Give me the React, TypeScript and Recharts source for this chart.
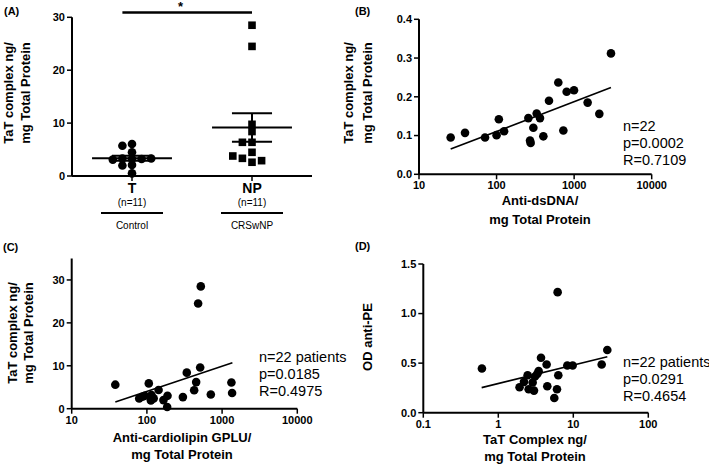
import React from 'react';
import { ScatterChart, Scatter, XAxis, YAxis, ReferenceLine } from 'recharts';

// Panel A: dot plot, TaT complex (ng/mg total protein)
const groups = ['T', 'NP'];
const groupCounts = ['(n=11)', '(n=11)'];
const groupNames = ['Control', 'CRSwNP'];
const controlTaT = [0.5, 3.2, 3.3, 3.2, 3.1, 3.3, 4.5, 6.05, 5.73, 2.1, 2.0];
const npTaT = [28.5, 24.5, 8.4, 9.77, 6.37, 6.37, 4.48, 2.6, 3.34, 2.9, 3.78];

// Panel B: anti-dsDNA vs TaT
const dsDNA = [25.6, 39.2, 71, 100, 107, 125, 257, 270, 275, 298, 329, 363, 401, 474, 625, 726, 801, 996, 1493, 2112, 2985];
const tatB = [0.095, 0.107, 0.095, 0.101, 0.142, 0.111, 0.145, 0.087, 0.081, 0.12, 0.157, 0.145, 0.098, 0.19, 0.237, 0.113, 0.213, 0.217, 0.185, 0.156, 0.312];
const fitBx = [25.6, 2985];
const fitBy = [0.065, 0.224];

// Panel C: anti-cardiolipin vs TaT
const cardiolipin = [38, 79, 87, 94, 106, 113, 115, 123, 143, 166, 188, 186, 301, 339, 425, 452, 480, 511, 521, 708, 1330, 1358];
const tatC = [5.6, 2.4, 2.8, 3.0, 5.9, 1.9, 3.2, 2.4, 4.35, 2.0, 3.0, 0.4, 2.7, 8.4, 4.3, 6.2, 24.5, 9.6, 28.5, 3.3, 6.1, 3.65];
const fitCx = [38, 1371];
const fitCy = [1.55, 10.7];

// Panel D: TaT vs OD anti-PE
const tatD = [0.605, 1.92, 2.2, 2.46, 2.54, 2.87, 2.99, 3.08, 3.31, 3.45, 3.71, 4.41, 4.5, 5.58, 6.06, 6.18, 6.31, 8.32, 9.8, 23.9, 28.4];
const antiPE = [0.446, 0.257, 0.311, 0.378, 0.236, 0.304, 0.223, 0.365, 0.392, 0.419, 0.554, 0.486, 0.267, 0.149, 0.236, 1.216, 0.378, 0.476, 0.476, 0.486, 0.632];
const fitDx = [0.6, 28.4];
const fitDy = [0.253, 0.564];

const statsB = ['n=22', 'p=0.0002', 'R=0.7109'];
const statsC = ['n=22 patients', 'p=0.0185', 'R=0.4975'];
const statsD = ['n=22 patients', 'p=0.0291', 'R=0.4654'];

const FONT = "'Liberation Sans', Arial, Helvetica, sans-serif";

const zip = (xs: number[], ys: number[]) => xs.map((x, i) => ({ x, y: ys[i] }));

// simple beeswarm: put each value in the first free column slot
function swarm(values: number[], center: number, slotWidth: number, minGap: number) {
  const slots = [0, -1, 1, -2, 2, -3, 3];
  const placed: { x: number; y: number; s: number }[] = [];
  values.forEach((v) => {
    const s = slots.find((k) => placed.every((p) => p.s !== k || Math.abs(p.y - v) >= minGap)) ?? 0;
    placed.push({ x: center + s * slotWidth, y: v, s });
  });
  return placed;
}

function meanSem(values: number[]) {
  const n = values.length;
  const mean = values.reduce((a, b) => a + b, 0) / n;
  const sd = Math.sqrt(values.reduce((a, b) => a + (b - mean) ** 2, 0) / (n - 1));
  return { mean, sem: sd / Math.sqrt(n) };
}

const tickStyle = { fill: '#000', fontSize: 11, fontWeight: 'bold', fontFamily: FONT };
const axisLine = { stroke: '#000', strokeWidth: 2 };
const tickLine = { stroke: '#000', strokeWidth: 1.5 };

const Dot = (props: any) => <circle cx={props.cx} cy={props.cy} r={4.3} fill="#000" />;
const Square = (props: any) => <rect x={props.cx - 3.8} y={props.cy - 3.8} width={7.6} height={7.6} fill="#000" />;
const NoDot = () => <g />;

function GroupTick(props: any) {
  const { x, y, payload } = props;
  const i = Math.round(payload.value) - 1;
  return (
    <g transform={`translate(${x},${y})`} fontFamily={FONT} fill="#000">
      <text x={0} y={10} textAnchor="middle" fontSize={14} fontWeight="bold">{groups[i]}</text>
      <text x={0} y={23} textAnchor="middle" fontSize={10}>{groupCounts[i]}</text>
      <line x1={-31} x2={31} y1={30} y2={30} stroke="#000" strokeWidth={2} />
      <text x={0} y={46} textAnchor="middle" fontSize={10}>{groupNames[i]}</text>
    </g>
  );
}

function DotPlotPanel() {
  const ctrl = swarm(controlTaT, 1, 0.08, 1.1);
  const np = swarm(npTaT, 2, 0.08, 1.1);
  const bars = [
    { c: 1, ...meanSem(controlTaT) },
    { c: 2, ...meanSem(npTaT) },
  ];
  return (
    <div style={{ position: 'absolute', left: 0, top: 0 }}>
      <ScatterChart width={355} height={230} margin={{ top: 17.3, right: 43, bottom: 4, left: 32 }}>
        <XAxis type="number" dataKey="x" domain={[0.5, 2.5]} ticks={[1, 2]} tick={<GroupTick />}
          axisLine={axisLine} tickLine={tickLine} tickSize={5} height={50} interval={0} />
        <YAxis type="number" dataKey="y" domain={[0, 30]} ticks={[0, 10, 20, 30]} tick={tickStyle}
          axisLine={axisLine} tickLine={tickLine} tickSize={5} width={40} />
        <Scatter data={ctrl} shape={Dot} isAnimationActive={false} />
        <Scatter data={np} shape={Square} isAnimationActive={false} />
        {bars.map((b) => [
          <ReferenceLine key={`m${b.c}`} segment={[{ x: b.c - 0.333, y: b.mean }, { x: b.c + 0.333, y: b.mean }]} stroke="#000" strokeWidth={2} ifOverflow="visible" />,
          <ReferenceLine key={`v${b.c}`} segment={[{ x: b.c, y: b.mean - b.sem }, { x: b.c, y: b.mean + b.sem }]} stroke="#000" strokeWidth={2} ifOverflow="visible" />,
          <ReferenceLine key={`u${b.c}`} segment={[{ x: b.c - 0.167, y: b.mean + b.sem }, { x: b.c + 0.167, y: b.mean + b.sem }]} stroke="#000" strokeWidth={2} ifOverflow="visible" />,
          <ReferenceLine key={`l${b.c}`} segment={[{ x: b.c - 0.167, y: b.mean - b.sem }, { x: b.c + 0.167, y: b.mean - b.sem }]} stroke="#000" strokeWidth={2} ifOverflow="visible" />,
        ])}
        <ReferenceLine segment={[{ x: 0.92, y: 30.9 }, { x: 2.0, y: 30.9 }]} stroke="#000" strokeWidth={2.5} ifOverflow="visible" />
      </ScatterChart>
    </div>
  );
}

interface LogPanelProps {
  left: number; top: number; width: number; height: number;
  margin: { top: number; right: number; bottom: number; left: number };
  xDomain: number[]; xTicks: number[];
  yDomain: number[]; yTicks: number[]; yDigits: number;
  points: { x: number; y: number }[];
  fit: { x: number; y: number }[];
}

function LogPanel(p: LogPanelProps) {
  return (
    <div style={{ position: 'absolute', left: p.left, top: p.top }}>
      <ScatterChart width={p.width} height={p.height} margin={p.margin}>
        <XAxis type="number" dataKey="x" scale="log" domain={p.xDomain} ticks={p.xTicks} tick={tickStyle}
          axisLine={axisLine} tickLine={tickLine} tickSize={5} height={25} interval={0}
          tickFormatter={(v: number) => String(v)} allowDataOverflow />
        <YAxis type="number" dataKey="y" domain={p.yDomain} ticks={p.yTicks} tick={tickStyle}
          axisLine={axisLine} tickLine={tickLine} tickSize={5} width={40} interval={0}
          tickFormatter={(v: number) => v.toFixed(p.yDigits)} />
        <Scatter data={p.points} shape={Dot} isAnimationActive={false} />
        <Scatter data={p.fit} shape={NoDot} line={{ stroke: '#000', strokeWidth: 1.6 }} isAnimationActive={false} />
      </ScatterChart>
    </div>
  );
}

const txt = (left: number, top: number, style: React.CSSProperties, content: React.ReactNode) => (
  <div style={{ position: 'absolute', left, top, fontFamily: FONT, color: '#000', whiteSpace: 'nowrap', ...style }}>{content}</div>
);

function Centered({ x, y, lh, size = 13, lines }: { x: number; y: number; lh: number; size?: number; lines: string[] }) {
  return (
    <div style={{ position: 'absolute', left: x, top: y, transform: 'translate(-50%, 0)', fontFamily: FONT, fontWeight: 'bold',
      fontSize: size, lineHeight: `${lh}px`, textAlign: 'center', whiteSpace: 'nowrap', color: '#000' }}>
      {lines.map((l) => <div key={l}>{l}</div>)}
    </div>
  );
}

function Rotated({ x, y, lh, size = 13, lines }: { x: number; y: number; lh: number; size?: number; lines: string[] }) {
  return (
    <div style={{ position: 'absolute', left: x, top: y, transform: 'translate(-50%, -50%) rotate(-90deg)', fontFamily: FONT,
      fontWeight: 'bold', fontSize: size, lineHeight: `${lh}px`, textAlign: 'center', whiteSpace: 'nowrap', color: '#000' }}>
      {lines.map((l) => <div key={l}>{l}</div>)}
    </div>
  );
}

function Stats({ x, y, lines }: { x: number; y: number; lines: string[] }) {
  return (
    <div style={{ position: 'absolute', left: x, top: y, fontFamily: FONT, fontSize: 14.5, lineHeight: '17px', color: '#000', whiteSpace: 'nowrap' }}>
      {lines.map((l) => <div key={l}>{l}</div>)}
    </div>
  );
}

export default function App() {
  const panelLabel = { fontSize: 11, fontWeight: 'bold' as const };
  return (
    <div style={{ position: 'absolute', left: 0, top: 0, width: 709, height: 464, background: '#fff', overflow: 'hidden' }}>
      <DotPlotPanel />
      <LogPanel left={355} top={0} width={354} height={230}
        margin={{ top: 19.3, right: 57.3, bottom: 30.7, left: 24 }}
        xDomain={[10, 10000]} xTicks={[10, 100, 1000, 10000]}
        yDomain={[0, 0.4]} yTicks={[0, 0.1, 0.2, 0.3, 0.4]} yDigits={1}
        points={zip(dsDNA, tatB)} fit={zip(fitBx, fitBy)} />
      <LogPanel left={0} top={230} width={355} height={234}
        margin={{ top: 28.5, right: 57.7, bottom: 30.3, left: 31.7 }}
        xDomain={[10, 10000]} xTicks={[10, 100, 1000, 10000]}
        yDomain={[0, 35]} yTicks={[0, 10, 20, 30]} yDigits={0}
        points={zip(cardiolipin, tatC)} fit={zip(fitCx, fitCy)} />
      <LogPanel left={355} top={230} width={354} height={234}
        margin={{ top: 34, right: 60.7, bottom: 26.3, left: 28.3 }}
        xDomain={[0.1, 100]} xTicks={[0.1, 1, 10, 100]}
        yDomain={[0, 1.5]} yTicks={[0, 0.5, 1, 1.5]} yDigits={1}
        points={zip(tatD, antiPE)} fit={zip(fitDx, fitDy)} />

      {txt(4, 5, panelLabel, '(A)')}
      {txt(355, 5, panelLabel, '(B)')}
      {txt(3, 241, panelLabel, '(C)')}
      {txt(355, 240, panelLabel, '(D)')}
      {txt(178, -1, { fontSize: 13, fontWeight: 'bold' }, '*')}

      <Rotated x={16.5} y={93} lh={17} lines={['TaT complex ng/', 'mg Total Protein']} />
      <Rotated x={358} y={93} lh={19} lines={['TaT complex ng/', 'mg Total Protein']} />
      <Rotated x={21} y={333} lh={16} lines={['TaT complex ng/', 'mg Total Protein']} />
      <Rotated x={368} y={337} lh={16} lines={['OD anti-PE']} />

      <Centered x={540} y={191} lh={19} lines={['Anti-dsDNA/', 'mg Total Protein']} />
      <Centered x={182} y={429} lh={17} lines={['Anti-cardiolipin GPLU/', 'mg Total Protein']} />
      <Centered x={535} y={431} lh={17} lines={['TaT Complex ng/', 'mg Total Protein']} />

      <Stats x={623} y={118} lines={statsB} />
      <Stats x={259} y={349} lines={statsC} />
      <Stats x={623} y={354} lines={statsD} />
    </div>
  );
}
